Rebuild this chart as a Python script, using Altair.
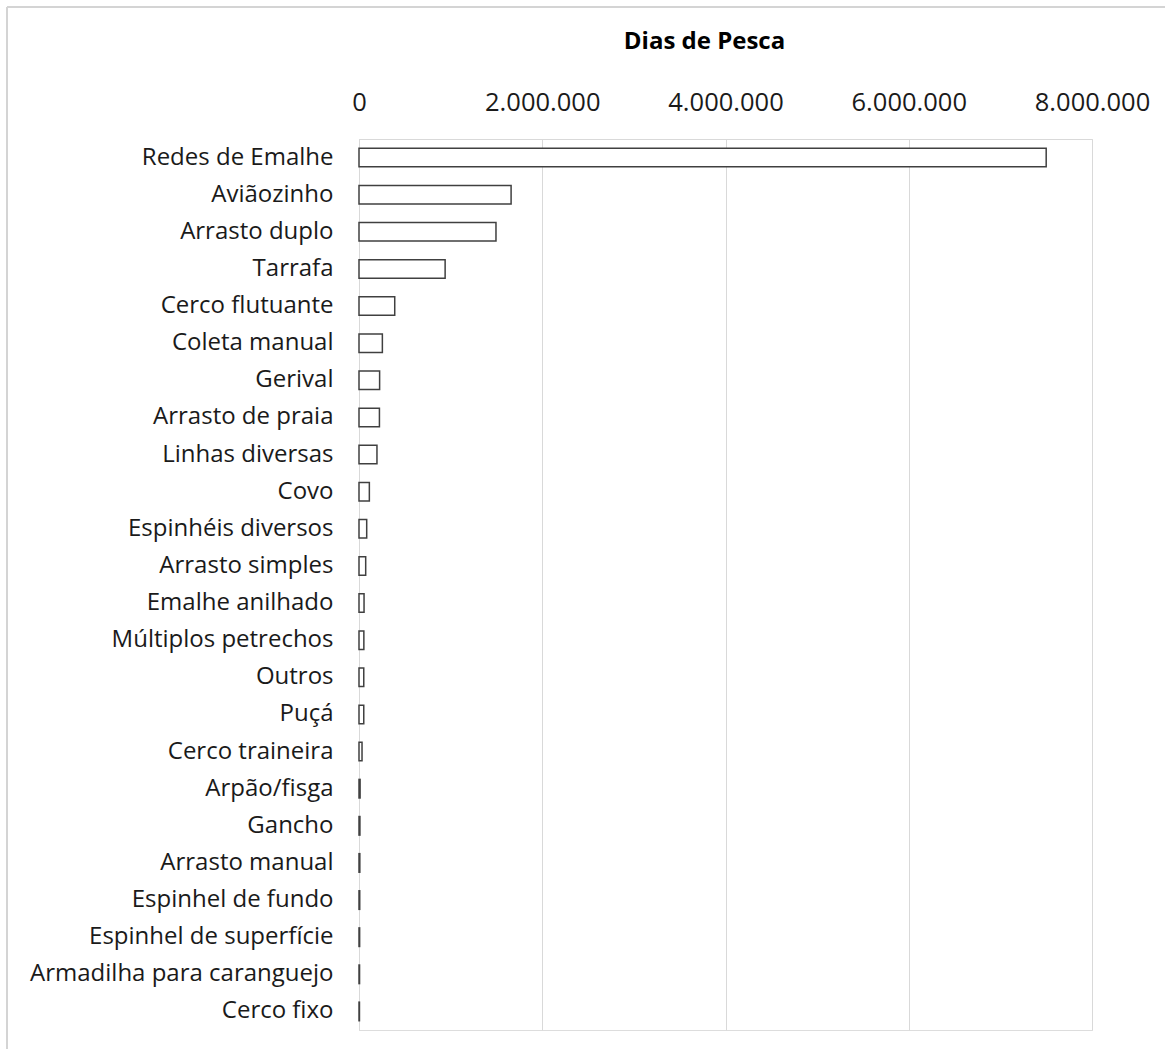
import altair as alt
import pandas as pd

# Fishing gear types, in display order (largest first)
gears = [
    "Redes de Emalhe", "Aviãozinho", "Arrasto duplo", "Tarrafa",
    "Cerco flutuante", "Coleta manual", "Gerival", "Arrasto de praia",
    "Linhas diversas", "Covo", "Espinhéis diversos", "Arrasto simples",
    "Emalhe anilhado", "Múltiplos petrechos", "Outros", "Puçá",
    "Cerco traineira", "Arpão/fisga", "Gancho", "Arrasto manual",
    "Espinhel de fundo", "Espinhel de superfície",
    "Armadilha para caranguejo", "Cerco fixo",
]

# Fishing days per gear type
fishing_days = [
    7500000, 1660000, 1495000, 940000,
    390000, 255000, 225000, 223000,
    196000, 113000, 84000, 73000,
    55000, 53000, 52000, 52000,
    33000, 12000, 10000, 9000,
    8000, 7000, 6000, 5000,
]

x_ticks = [0, 2000000, 4000000, 6000000, 8000000]

df = pd.DataFrame({"Petrecho": gears, "Dias": fishing_days})

FONT = "Open Sans"
TEXT = "#1a1a1a"
GRID = "#d9d9d9"

bars = alt.Chart(df).mark_bar(
    fill="white", stroke="#404040", strokeWidth=1.5
).encode(
    x=alt.X(
        "Dias:Q",
        scale=alt.Scale(domain=[0, 8000000], nice=False),
        axis=alt.Axis(
            orient="top",
            values=x_ticks,
            format=",d",
            title="Dias de Pesca",
            titleFont=FONT,
            titleFontSize=24,
            titleFontWeight="bold",
            titleColor="#000000",
            titleX=345,
            titleY=-98,
            titleAlign="center",
            titleBaseline="middle",
            titleAngle=0,
            labelFont=FONT,
            labelFontSize=25.5,
            labelColor=TEXT,
            labelPadding=24,
            labelFlush=False,
            ticks=False,
            domain=True,
            domainColor=GRID,
            domainWidth=1,
            grid=True,
            gridColor=GRID,
            gridWidth=1,
        ),
    ),
    y=alt.Y(
        "Petrecho:N",
        sort=gears,
        scale=alt.Scale(paddingInner=0.5, paddingOuter=0.25),
        axis=alt.Axis(
            title=None,
            labelFont=FONT,
            labelFontSize=24,
            labelColor=TEXT,
            labelPadding=26,
            labelLimit=400,
            ticks=False,
            domain=True,
            domainColor=GRID,
            domainWidth=1,
            grid=False,
        ),
    ),
)

# Light frame around the chart (top and left edges)
frame_top = alt.Chart(df).mark_rule(color="#d4d4d4", strokeWidth=2).encode(
    x=alt.value(-352), x2=alt.value(806), y=alt.value(-132)
)
frame_left = alt.Chart(df).mark_rule(color="#d4d4d4", strokeWidth=2).encode(
    x=alt.value(-352), y=alt.value(-132), y2=alt.value(910)
)

chart = alt.layer(bars, frame_top, frame_left).properties(
    width=733,
    height=891,
    padding={"left": 6, "top": 6, "right": 0, "bottom": 0},
).configure_view(
    stroke=None
).configure(
    locale={
        "number": {
            "decimal": ",",
            "thousands": ".",
            "grouping": [3],
            "currency": ["R$", ""],
        }
    }
)

chart.save("out.html", embed_options={"renderer": "svg", "actions": False})
